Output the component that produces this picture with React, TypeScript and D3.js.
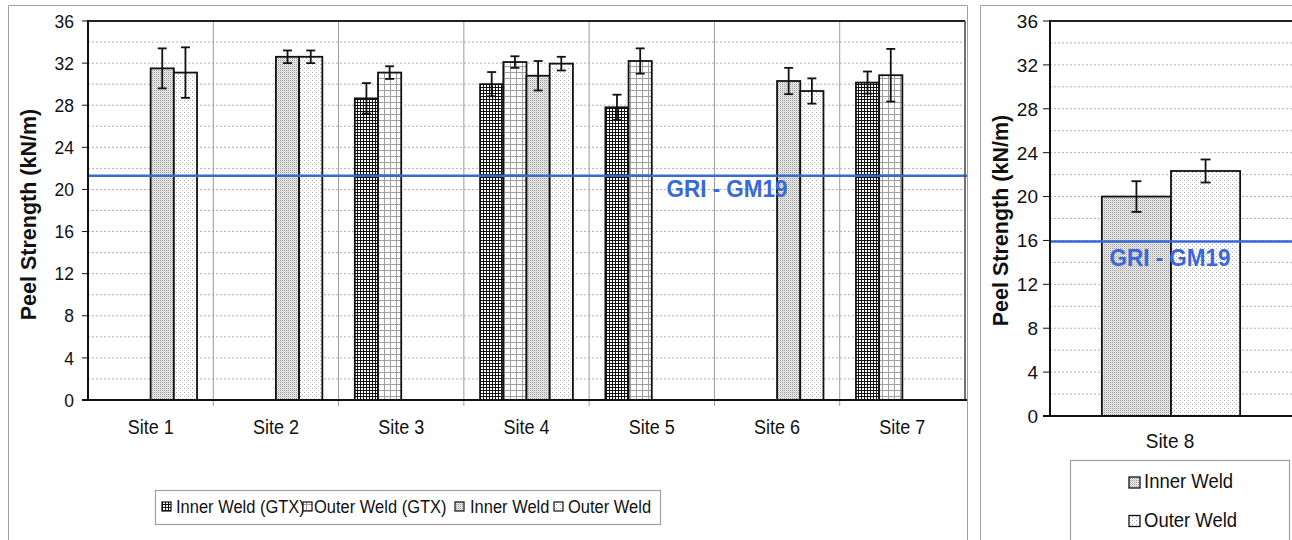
import React from "react";
import * as d3 from "d3";

// ---------- data ----------
const sites = ["Site 1", "Site 2", "Site 3", "Site 4", "Site 5", "Site 6", "Site 7"];
const seriesNames = ["Inner Weld (GTX)", "Outer Weld (GTX)", "Inner Weld", "Outer Weld"];
const innerGtx: (number | null)[] = [null, null, 28.65, 30.0, 27.8, null, 30.15];
const innerGtxErr: (number | null)[] = [null, null, 1.45, 1.15, 1.2, null, 1.05];
const outerGtx: (number | null)[] = [null, null, 31.1, 32.1, 32.2, null, 30.85];
const outerGtxErr: (number | null)[] = [null, null, 0.6, 0.55, 1.2, null, 2.5];
const innerWeld: (number | null)[] = [31.5, 32.6, null, 30.8, null, 30.3, null];
const innerWeldErr: (number | null)[] = [1.9, 0.6, null, 1.4, null, 1.25, null];
const outerWeld: (number | null)[] = [31.1, 32.6, null, 31.95, null, 29.35, null];
const outerWeldErr: (number | null)[] = [2.4, 0.6, null, 0.65, null, 1.2, null];

const site8 = ["Site 8"];
const site8Series = ["Inner Weld", "Outer Weld"];
const site8Values = [20.0, 22.33];
const site8Errors = [1.4, 1.05];

const yTicks = [0, 4, 8, 12, 16, 20, 24, 28, 32, 36];
const gridValues = [2, 4, 6, 8, 10, 12, 14, 16, 18, 20, 22, 24, 26, 28, 30, 32, 34];
const griLeft = 21.3;
const griRight = 15.9;
const griLabel = "GRI - GM19";
const yTitle = "Peel Strength (kN/m)";

// ---------- styles ----------
const FONT = "'Liberation Sans', Arial, sans-serif";
const BLUE = "#3a68d8";
const patternIds: Record<string, string> = {
  "Inner Weld (GTX)": "url(#pGridDark)",
  "Outer Weld (GTX)": "url(#pGridLight)",
  "Inner Weld": "url(#pDotDense)",
  "Outer Weld": "url(#pDotSparse)",
};

const leftSeries = [
  { name: seriesNames[0], values: innerGtx, errs: innerGtxErr },
  { name: seriesNames[1], values: outerGtx, errs: outerGtxErr },
  { name: seriesNames[2], values: innerWeld, errs: innerWeldErr },
  { name: seriesNames[3], values: outerWeld, errs: outerWeldErr },
];

function T(props: {
  x: number;
  y: number;
  sy?: number;
  size: number;
  anchor?: string;
  dy?: string;
  bold?: boolean;
  fill?: string;
  children: React.ReactNode;
}) {
  const { x, y, sy = 1, size, anchor = "start", dy, bold, fill = "#111", children } = props;
  return (
    <text
      transform={`translate(${x},${y}) scale(1,${sy})`}
      textAnchor={anchor}
      dy={dy}
      fontSize={size}
      fontWeight={bold ? "bold" : "normal"}
      fill={fill}
    >
      {children}
    </text>
  );
}

export default function App() {
  // left chart scales
  const xL = d3.scaleBand().domain(sites).range([88, 965]).paddingInner(0).paddingOuter(0);
  const xL1 = d3.scaleBand().domain(seriesNames).range([0, xL.bandwidth()]).paddingInner(0).paddingOuter(0.7);
  const yL = d3.scaleLinear().domain([0, 36]).range([400, 21]);
  // right chart scales
  const xR = d3.scaleBand().domain(site8).range([1050, 1292]).paddingInner(0).paddingOuter(0);
  const xR1 = d3.scaleBand().domain(site8Series).range([0, xR.bandwidth()]).paddingInner(0).paddingOuter(0.75);
  const yR = d3.scaleLinear().domain([0, 36]).range([416, 21]);

  const boundaries = sites.map((s) => xL(s)!).slice(1);

  const legendLeft = [
    { name: seriesNames[0], sx: 162, tx: 176 },
    { name: seriesNames[1], sx: 303, tx: 314 },
    { name: seriesNames[2], sx: 455, tx: 470 },
    { name: seriesNames[3], sx: 554, tx: 568 },
  ];

  return (
    <svg
      width={1292}
      height={540}
      style={{ position: "absolute", left: 0, top: 0, background: "#fff" }}
      fontFamily={FONT}
    >
      <defs>
        <pattern id="pGridDark" patternUnits="userSpaceOnUse" width={3} height={3}>
          <rect width={3} height={3} fill="#fff" />
          <path d="M0 0.5H3M0.5 0V3" stroke="#111" strokeWidth={1} />
        </pattern>
        <pattern id="pGridLight" patternUnits="userSpaceOnUse" width={6} height={6}>
          <rect width={6} height={6} fill="#fff" />
          <path d="M0 0.5H6M0.5 0V6" stroke="#a0a0a0" strokeWidth={1} />
        </pattern>
        <pattern id="pDotDense" patternUnits="userSpaceOnUse" width={2} height={2}>
          <rect width={2} height={2} fill="#efefef" />
          <rect x={0} y={0} width={1} height={1} fill="#999" />
          <rect x={1} y={1} width={1} height={1} fill="#cfcfcf" />
        </pattern>
        <pattern id="pDotSparse" patternUnits="userSpaceOnUse" width={4} height={4}>
          <rect width={4} height={4} fill="#fff" />
          <rect x={0} y={0} width={1} height={1} fill="#aaa" />
          <rect x={2} y={2} width={1} height={1} fill="#c4c4c4" />
        </pattern>
      </defs>

      {/* outer frames */}
      <path d="M8.5 540V5.5H967.5V540" fill="none" stroke="#a0a0a0" strokeWidth={1} />
      <path d="M980.5 540V5.5H1292" fill="none" stroke="#a0a0a0" strokeWidth={1} />

      {/* ===== LEFT CHART ===== */}
      {gridValues.map((v) => (
        <line key={"gl" + v} x1={88} x2={965} y1={yL(v)} y2={yL(v)} stroke="#b0b0b0" strokeWidth={1} strokeDasharray="2,2" />
      ))}
      {boundaries.map((bx, i) => (
        <line key={"sep" + i} x1={bx} x2={bx} y1={21} y2={406} stroke="#9a9a9a" strokeWidth={1} />
      ))}
      {leftSeries.map((s) =>
        sites.map((site, i) => {
          const v = s.values[i];
          if (v == null) return null;
          const x = xL(site)! + xL1(s.name)!;
          return (
            <rect
              key={s.name + site}
              x={x}
              y={yL(v)}
              width={xL1.bandwidth()}
              height={yL(0) - yL(v)}
              fill={patternIds[s.name]}
              stroke="#111"
              strokeWidth={1.8}
            />
          );
        })
      )}
      {leftSeries.map((s) =>
        sites.map((site, i) => {
          const v = s.values[i];
          const e = s.errs[i];
          if (v == null || e == null) return null;
          const cx = xL(site)! + xL1(s.name)! + xL1.bandwidth() / 2;
          return (
            <g key={"e" + s.name + site} stroke="#111" strokeWidth={1.8}>
              <line x1={cx} x2={cx} y1={yL(v + e)} y2={yL(v - e)} />
              <line x1={cx - 4.5} x2={cx + 4.5} y1={yL(v + e)} y2={yL(v + e)} />
              <line x1={cx - 4.5} x2={cx + 4.5} y1={yL(v - e)} y2={yL(v - e)} />
            </g>
          );
        })
      )}
      <line x1={88} x2={967} y1={yL(griLeft)} y2={yL(griLeft)} stroke={BLUE} strokeWidth={2.5} />
      <T x={727} y={197} sy={1.05} size={22.5} anchor="middle" bold fill={BLUE}>
        {griLabel}
      </T>
      {/* frame / axes */}
      <line x1={88} x2={965} y1={21} y2={21} stroke="#222" strokeWidth={2} />
      <line x1={965} x2={965} y1={21} y2={400} stroke="#444" strokeWidth={1.5} />
      <line x1={88} x2={88} y1={20} y2={401} stroke="#111" strokeWidth={2} />
      <line x1={82} x2={967} y1={400} y2={400} stroke="#111" strokeWidth={2} />
      {yTicks.map((t) => (
        <g key={"ytl" + t}>
          <line x1={82} x2={88} y1={yL(t)} y2={yL(t)} stroke="#111" strokeWidth={1} />
          <T x={74} y={yL(t)} sy={1.05} dy="0.36em" size={17.5} anchor="end">
            {t}
          </T>
        </g>
      ))}
      {sites.map((s) => (
        <T key={"xl" + s} x={xL(s)! + xL.bandwidth() / 2} y={434} sy={1.1} size={18} anchor="middle">
          {s}
        </T>
      ))}
      <text
        transform={`translate(36,${(21 + 400) / 2 + 4}) rotate(-90)`}
        textAnchor="middle"
        fontSize={21.5}
        fontWeight="bold"
        fill="#111"
      >
        {yTitle}
      </text>
      {/* left legend */}
      <rect x={155.5} y={490.5} width={505} height={34} fill="#fff" stroke="#a0a0a0" strokeWidth={1.2} />
      {legendLeft.map((l) => (
        <g key={"lg" + l.name}>
          <rect x={l.sx} y={502} width={9} height={9} fill={patternIds[l.name]} stroke="#111" strokeWidth={1.2} />
          <T x={l.tx} y={513} sy={1.12} size={16.5}>
            {l.name}
          </T>
        </g>
      ))}

      {/* ===== RIGHT CHART ===== */}
      {gridValues.map((v) => (
        <line key={"gr" + v} x1={1050} x2={1292} y1={yR(v)} y2={yR(v)} stroke="#b0b0b0" strokeWidth={1} strokeDasharray="2,2" />
      ))}
      {site8Series.map((s, i) => {
        const v = site8Values[i];
        const x = xR(site8[0])! + xR1(s)!;
        return (
          <rect
            key={"r" + s}
            x={x}
            y={yR(v)}
            width={xR1.bandwidth()}
            height={yR(0) - yR(v)}
            fill={patternIds[s]}
            stroke="#111"
            strokeWidth={1.8}
          />
        );
      })}
      {site8Series.map((s, i) => {
        const v = site8Values[i];
        const e = site8Errors[i];
        const cx = xR(site8[0])! + xR1(s)! + xR1.bandwidth() / 2;
        return (
          <g key={"re" + s} stroke="#111" strokeWidth={1.8}>
            <line x1={cx} x2={cx} y1={yR(v + e)} y2={yR(v - e)} />
            <line x1={cx - 5} x2={cx + 5} y1={yR(v + e)} y2={yR(v + e)} />
            <line x1={cx - 5} x2={cx + 5} y1={yR(v - e)} y2={yR(v - e)} />
          </g>
        );
      })}
      <line x1={1050} x2={1292} y1={yR(griRight)} y2={yR(griRight)} stroke={BLUE} strokeWidth={2.5} />
      <T x={1170} y={266} sy={1.05} size={22.5} anchor="middle" bold fill={BLUE}>
        {griLabel}
      </T>
      <line x1={1050} x2={1292} y1={21} y2={21} stroke="#222" strokeWidth={2} />
      <line x1={1050} x2={1050} y1={20} y2={417} stroke="#111" strokeWidth={2} />
      <line x1={1043} x2={1292} y1={416} y2={416} stroke="#111" strokeWidth={2} />
      {yTicks.map((t) => (
        <g key={"ytr" + t}>
          <line x1={1043} x2={1050} y1={yR(t)} y2={yR(t)} stroke="#111" strokeWidth={1} />
          <T x={1038} y={yR(t)} dy="0.36em" size={19} anchor="end">
            {t}
          </T>
        </g>
      ))}
      <T x={xR(site8[0])! + xR.bandwidth() / 2 - 1} y={448} sy={1.05} size={19} anchor="middle">
        {site8[0]}
      </T>
      <text
        transform={`translate(1008,${(21 + 416) / 2 + 2}) rotate(-90)`}
        textAnchor="middle"
        fontSize={21.5}
        fontWeight="bold"
        fill="#111"
      >
        {yTitle}
      </text>
      {/* right legend */}
      <rect x={1070.5} y={460.5} width={219} height={90} fill="#fff" stroke="#a0a0a0" strokeWidth={1.2} />
      {site8Series.map((s, i) => (
        <g key={"rl" + s}>
          <rect x={1129} y={477 + i * 38.5} width={11} height={11} fill={patternIds[s]} stroke="#111" strokeWidth={1.3} />
          <T x={1144} y={488 + i * 38.5} sy={1.05} size={18.5}>
            {s}
          </T>
        </g>
      ))}
    </svg>
  );
}
